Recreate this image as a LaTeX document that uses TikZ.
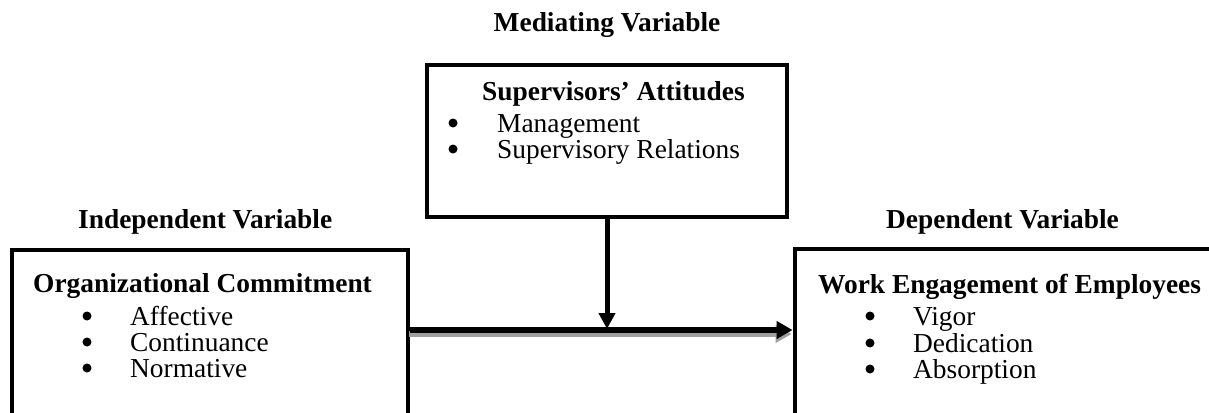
\documentclass[tikz,border=0pt]{standalone}
\usepackage{fontspec}
\setmainfont{Liberation Serif}
\usetikzlibrary{arrows.meta}
\begin{document}
\begin{tikzpicture}[x=1pt,y=-1pt,
  box/.style={draw,line width=4.8pt,inner sep=0pt,fill=none},
  txt/.style={inner sep=0pt,anchor=base west,font=\fontsize{27.4}{32}\selectfont},
  hd/.style={txt,font=\fontsize{27.4}{32}\selectfont\bfseries},
  dot/.style={circle,fill,inner sep=0pt,minimum size=9pt},
  link/.style={line width=5.5pt,-{Triangle[length=16pt,width=17pt]}},
  drop/.style={line width=5pt,-{Triangle[length=16pt,width=16pt]}}
]
\useasboundingbox (0,0) rectangle (1209,412);
\clip (0,0) rectangle (1209,412);

% captions above the boxes
\node[hd,anchor=base] (capm) at (607,32) {Mediating Variable};
\node[hd] (capi) at (78,228) {Independent Variable};
\node[hd] (capd) at (886,228) {Dependent Variable};

% the three variable boxes (side boxes run past the lower edge)
\node[box,minimum width=396pt,minimum height=200pt] (ind) at (210,350) {};
\node[box,minimum width=455pt,minimum height=200pt] (dep) at (1022.5,349) {};
\node[box,minimum width=360pt,minimum height=152pt] (med) at (607,141) {};

% mediator contents
\node[hd] (mt) at (482,100) {Supervisors’ Attitudes};
\node[dot] (mb1) at (453,123) {};
\node[txt] (m1) at (497,132) {Management};
\node[dot] (mb2) at (453,149) {};
\node[txt] (m2) at (497,158) {Supervisory Relations};

% independent variable contents
\node[hd] (it) at (33,292) {Organizational Commitment};
\node[dot] (ib1) at (87,316) {};
\node[txt] (i1) at (130,325) {Affective};
\node[dot] (ib2) at (87,342) {};
\node[txt] (i2) at (130,351) {Continuance};
\node[dot] (ib3) at (87,368) {};
\node[txt] (i3) at (130,377) {Normative};

% dependent variable contents
\node[hd] (dt) at (818,293) {Work Engagement of Employees};
\node[dot] (db1) at (870,316) {};
\node[txt] (d1) at (913,325) {Vigor};
\node[dot] (db2) at (870,343) {};
\node[txt] (d2) at (913,352) {Dedication};
\node[dot] (db3) at (870,369) {};
\node[txt] (d3) at (913,378) {Absorption};

% connectors: grey drop shadow under the main arrow, then the arrows
\coordinate (mainy) at (607,330);
\coordinate (meet) at (607,329);
\begin{scope}[transform canvas={xshift=-1pt,yshift=-4pt}]
  \draw[link,gray!75] (ind.east |- mainy) -- (dep.west |- mainy);
\end{scope}
\draw[link] (ind.east |- mainy) -- (dep.west |- mainy);
\draw[drop] (med.south) -- (meet);
\end{tikzpicture}
\end{document}
